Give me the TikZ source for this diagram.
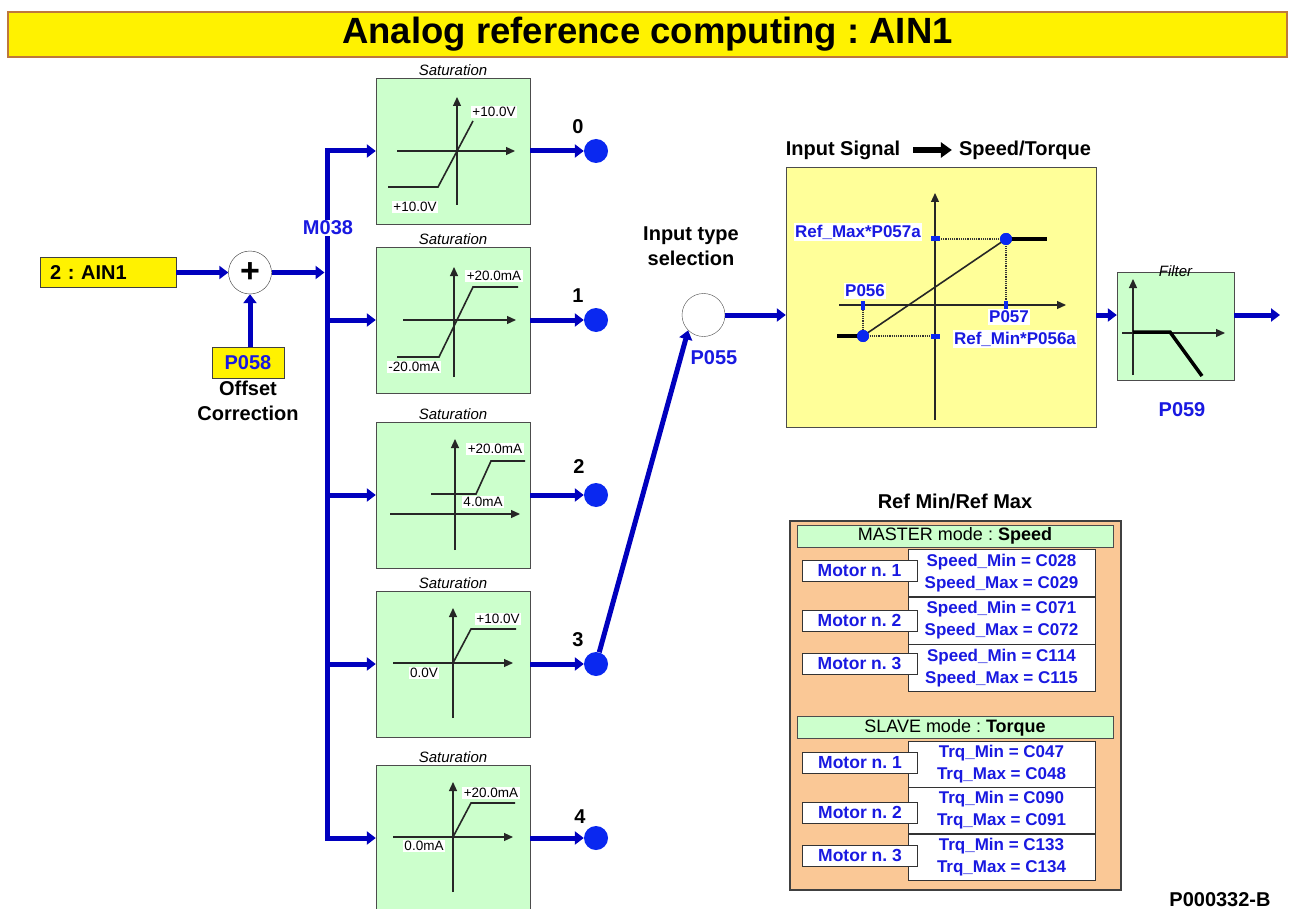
\documentclass[tikz,border=0pt]{standalone}
\usepackage{fontspec}
\setmainfont{Liberation Sans}
\frenchspacing
\usetikzlibrary{
    arrows.meta,
    positioning,
    calc
}
\definecolor{wireblue}{RGB}{0,0,190}
\definecolor{dotblue}{RGB}{10,40,240}
\definecolor{txtblue}{RGB}{25,25,225}
\definecolor{satgreen}{RGB}{204,255,204}
\definecolor{paleyellow}{RGB}{255,255,153}
\definecolor{peach}{RGB}{250,200,150}
\definecolor{titleedge}{RGB}{190,120,60}
\tikzset{
    titlebar/.style = {
        rectangle,
        draw=titleedge,
        line width=1.5pt,
        fill=yellow,
        minimum width=1279pt,
        minimum height=45pt,
        font=\fontsize{36.5}{40}\selectfont\bfseries
    },
    lbl/.style = {
        inner sep=1pt,
        align=center,
        font=\fontsize{20}{25}\selectfont\bfseries
    },
    bluelbl/.style = {
        lbl,
        text=txtblue
    },
    inbox/.style = {
        rectangle,
        draw=black!75,
        fill=yellow,
        inner xsep=10pt,
        text width=116pt,
        minimum height=30pt,
        align=left,
        font=\fontsize{20}{24}\selectfont\bfseries
    },
    parbox/.style = {
        rectangle,
        draw=black!75,
        fill=yellow,
        minimum width=72pt,
        minimum height=31pt,
        text=txtblue,
        font=\fontsize{20}{24}\selectfont\bfseries
    },
    sumnode/.style = {
        circle,
        draw=black!80,
        fill=white,
        minimum size=43pt,
        inner sep=0pt,
        font=\fontsize{34}{34}\selectfont\bfseries
    },
    selcircle/.style = {
        circle,
        draw=black!70,
        fill=white,
        minimum size=43pt,
        inner sep=0pt
    },
    satbox/.style = {
        rectangle,
        draw=black!70,
        fill=satgreen,
        minimum width=154pt,
        minimum height=146pt
    },
    sattitle/.style = {
        inner sep=2pt,
        font=\fontsize{15}{17}\selectfont\itshape
    },
    smalllbl/.style = {
        fill=white,
        inner sep=1.5pt,
        font=\fontsize{13.5}{15}\selectfont
    },
    plbl/.style = {
        fill=white,
        inner sep=1.5pt,
        text=txtblue,
        font=\fontsize{17}{19}\selectfont\bfseries
    },
    wire/.style = {
        draw=wireblue,
        line width=5pt
    },
    flow/.style = {
        wire,
        -{Triangle[length=9pt,width=13pt]}
    },
    outdot/.style = {
        circle,
        fill=dotblue,
        minimum size=24pt,
        inner sep=0pt
    },
    pdot/.style = {
        circle,
        fill=dotblue,
        minimum size=12pt,
        inner sep=0pt
    },
    tickv/.style = {
        rectangle,
        fill=dotblue,
        minimum width=4pt,
        minimum height=9pt,
        inner sep=0pt
    },
    tickh/.style = {
        rectangle,
        fill=dotblue,
        minimum width=9pt,
        minimum height=5pt,
        inner sep=0pt
    },
    axis/.style = {
        draw=black!85,
        line width=1.2pt,
        -{Triangle[length=9pt,width=8pt]}
    },
    curve/.style = {
        draw=black!85,
        line width=1.6pt
    },
    thickcurve/.style = {
        draw=black,
        line width=3.5pt
    },
    dotline/.style = {
        draw=black!80,
        line width=1.2pt,
        densely dotted
    },
    bigarrow/.style = {
        draw=black,
        line width=6pt,
        -{Triangle[length=11pt,width=15pt]}
    },
    yelbox/.style = {
        rectangle,
        draw=black!70,
        fill=paleyellow,
        minimum width=310pt,
        minimum height=260pt
    },
    filtbox/.style = {
        rectangle,
        draw=black!70,
        fill=satgreen,
        minimum width=117pt,
        minimum height=108pt
    },
    refbox/.style = {
        rectangle,
        draw=black!75,
        line width=1.2pt,
        fill=peach,
        minimum width=331pt,
        minimum height=369pt
    },
    modebar/.style = {
        rectangle,
        draw=black!70,
        fill=satgreen,
        minimum width=316pt,
        minimum height=22pt,
        inner sep=0pt,
        font=\fontsize{18}{20}\selectfont
    },
    valbox/.style = {
        rectangle,
        draw=black!80,
        fill=white,
        minimum width=187pt,
        minimum height=47pt,
        inner sep=0pt,
        align=center,
        text=txtblue,
        font=\fontsize{17}{22}\selectfont\bfseries
    },
    motorbox/.style = {
        rectangle,
        draw=black!80,
        fill=white,
        minimum width=115pt,
        minimum height=21pt,
        inner sep=0pt,
        text=txtblue,
        font=\fontsize{17.5}{19}\selectfont\bfseries
    }
}

\begin{document}
\begin{tikzpicture}[x=1pt,y=-1pt]
\fill[white] (0,0) rectangle (1292,909);
\useasboundingbox (0,0) rectangle (1292,909);

\node[titlebar] (title) at (647.5,34.5) {Analog reference computing : AIN1};

% input and offset
\node[inbox] (ain) at (108,272.5) {2 : AIN1};
\node[sumnode] (sum) at (250,272.5) {+};
\node[parbox] (p058) at (248,363) {P058};
\node[lbl, below=1pt of p058] (offset) {Offset\\Correction};
\draw[flow] (ain.east) -- (sum.west);
\draw[flow] (p058.north -| sum) -- (sum.south);

% M038 bus
\coordinate (bustop) at (327,151);
\coordinate (busbot) at (327,838);
\draw[wire, line cap=rect] (bustop) -- (busbot);
\draw[flow, shorten >=2.5pt] (sum.east) -- (sum.east -| bustop);
\node[bluelbl, fill=white] (m038) at (328,228) {M038};

% saturation blocks
\node[satbox] (sat0) at (453,151) {};
\node[satbox] (sat1) at (453,320) {};
\node[satbox] (sat2) at (453,495) {};
\node[satbox] (sat3) at (453,664) {};
\node[satbox] (sat4) at (453,838) {};
\node[sattitle, above=0pt of sat0] (sat0t) {Saturation};
\node[sattitle, above=0pt of sat1] (sat1t) {Saturation};
\node[sattitle, above=0pt of sat2] (sat2t) {Saturation};
\node[sattitle, above=0pt of sat3] (sat3t) {Saturation};
\node[sattitle, above=0pt of sat4] (sat4t) {Saturation};
\draw[flow] (bustop) -- (sat0.west);
\draw[flow] (sat1.west -| bustop) -- (sat1.west);
\draw[flow] (sat2.west -| bustop) -- (sat2.west);
\draw[flow] (sat3.west -| bustop) -- (sat3.west);
\draw[flow] (busbot) -- (sat4.west);

\begin{scope}[shift={(sat0.center)}]
\draw[axis] (4,54) -- (4,-54);
\draw[axis] (-56,0) -- (62,0);
\draw[curve] (-65,36) -- (-15,36) -- (20,-30);
\node[smalllbl] (s0hi) at (41,-39) {+10.0V};
\node[smalllbl] (s0lo) at (-38,56) {+10.0V};
\end{scope}
\begin{scope}[shift={(sat1.center)}]
\draw[axis] (1,57) -- (1,-53);
\draw[axis] (-50,0) -- (63,0);
\draw[curve] (-56,37) -- (-14,37) -- (20,-33) -- (65,-33);
\node[smalllbl] (s1hi) at (41,-44) {+20.0mA};
\node[smalllbl] (s1lo) at (-39,47) {-20.0mA};
\end{scope}
\begin{scope}[shift={(sat2.center)}]
\draw[axis] (2,55) -- (2,-56);
\draw[axis] (-63,19) -- (67,19);
\draw[curve] (-22,-1) -- (23,-1) -- (38,-34) -- (72,-34);
\node[smalllbl] (s2hi) at (42,-46) {+20.0mA};
\node[smalllbl] (s2lo) at (30,7) {4.0mA};
\end{scope}
\begin{scope}[shift={(sat3.center)}]
\draw[axis] (0,54) -- (0,-56);
\draw[axis] (-60,-1) -- (60,-1);
\draw[curve] (0,-1) -- (18,-35) -- (63,-35);
\node[smalllbl] (s3hi) at (45,-45) {+10.0V};
\node[smalllbl] (s3lo) at (-29,9) {0.0V};
\end{scope}
\begin{scope}[shift={(sat4.center)}]
\draw[axis] (0,54) -- (0,-56);
\draw[axis] (-60,-1) -- (60,-1);
\draw[curve] (0,-1) -- (18,-35) -- (62,-35);
\node[smalllbl] (s4hi) at (38,-45) {+20.0mA};
\node[smalllbl] (s4lo) at (-29,8) {0.0mA};
\end{scope}

% outputs 0..4
\node[outdot] (out0) at (596,151) {};
\node[outdot] (out1) at (596,320) {};
\node[outdot] (out2) at (596,495) {};
\node[outdot] (out3) at (596,664) {};
\node[outdot] (out4) at (596,838) {};
\draw[flow] (sat0.east) -- (out0.west);
\draw[flow] (sat1.east) -- (out1.west);
\draw[flow] (sat2.east) -- (out2.west);
\draw[flow] (sat3.east) -- (out3.west);
\draw[flow] (sat4.east) -- (out4.west);
\node[lbl] (n0) at (578,127) {0};
\node[lbl] (n1) at (578,296) {1};
\node[lbl] (n2) at (579,467) {2};
\node[lbl] (n3) at (578,640) {3};
\node[lbl] (n4) at (580,817) {4};

% input type selection
\node[lbl] (seltitle) at (691,246) {Input type\\selection};
\node[selcircle] (p055) at (703.5,315) {};
\node[bluelbl] (p055lbl) at (714,358) {P055};
\draw[flow] (out3) -- (p055.south west);

% input signal -> speed/torque
\node[yelbox] (sig) at (941,297) {};
\node[lbl] (sigin) at (843,150) {Input Signal};
\node[lbl] (sigout) at (1025,150) {Speed/Torque};
\draw[bigarrow, shorten <=12pt, shorten >=6pt] (sigin.east) -- (sigout.west);
\draw[flow] (p055.east) -- (p055.east -| sig.west);

\draw[axis] (935,420) -- (935,193);
\draw[axis] (839,305) -- (1066,305);
\node[pdot] (pmin) at (863,336) {};
\node[pdot] (pmax) at (1006,239) {};
\draw[dotline] (pmin.center) -- (935,336);
\draw[dotline] (863,305) -- (pmin.center);
\draw[dotline] (pmax.center) -- (935,239);
\draw[dotline] (pmax.center) -- (1006,305);
\draw[thickcurve] (837,336) -- (pmin.center);
\draw[curve] (pmin.center) -- (pmax.center);
\draw[thickcurve] (pmax.center) -- (1047,239);
\node[pdot] at (pmin) {};
\node[pdot] at (pmax) {};
\node[tickv] (t056) at (863,305) {};
\node[tickv] (t057) at (1006,305) {};
\node[tickh] (tmin) at (935,336) {};
\node[tickh] (tmax) at (935,239) {};
\node[plbl] (refmax) at (858,232) {Ref\_Max*P057a};
\node[plbl] (p056) at (865,291) {P056};
\node[plbl] (p057) at (1009,317) {P057};
\node[plbl] (refmin) at (1015,339) {Ref\_Min*P056a};

% filter
\node[filtbox] (filt) at (1175.5,326) {};
\node[sattitle, above=-7pt of filt] (filtlbl) {Filter};
\draw[axis] (1133,375) -- (1133,279);
\draw[axis] (1122,333) -- (1225,333);
\draw[thickcurve] (1133,332) -- (1170,332) -- (1202,376);
\node[bluelbl] (p059) at (1182,410) {P059};
\coordinate (fout) at (1280,315);
\draw[flow] (sig.east |- p055) -- (filt.west |- p055);
\draw[flow] (filt.east |- p055) -- (fout);

% ref min / ref max table
\node[lbl] (reftitle) at (955,501) {Ref Min/Ref Max};
\node[refbox] (refmm) at (955.5,705.5) {};
\node[modebar] (master) at (955,536) {MASTER mode : \textbf{Speed}};
\node[valbox] (vs1) at (1001.5,573) {Speed\_Min = C028\\Speed\_Max = C029};
\node[valbox, below=0pt of vs1] (vs2) {Speed\_Min = C071\\Speed\_Max = C072};
\node[valbox, below=0pt of vs2] (vs3) {Speed\_Min = C114\\Speed\_Max = C115};
\node[motorbox] (ms1) at (859.5,570.5) {Motor n. 1};
\node[motorbox] (ms2) at (859.5,620.5) {Motor n. 2};
\node[motorbox] (ms3) at (859.5,663.5) {Motor n. 3};
\node[modebar] (slave) at (955,727.5) {SLAVE mode : \textbf{Torque}};
\node[valbox, minimum height=46pt] (vt1) at (1001.5,764) {Trq\_Min = C047\\Trq\_Max = C048};
\node[valbox, minimum height=46pt, below=0pt of vt1] (vt2) {Trq\_Min = C090\\Trq\_Max = C091};
\node[valbox, minimum height=46pt, below=0pt of vt2] (vt3) {Trq\_Min = C133\\Trq\_Max = C134};
\node[motorbox] (mt1) at (860,762.5) {Motor n. 1};
\node[motorbox] (mt2) at (860,812.5) {Motor n. 2};
\node[motorbox] (mt3) at (860,855.5) {Motor n. 3};

\node[lbl] (docid) at (1220,900) {P000332-B};
\end{tikzpicture}
\end{document}
